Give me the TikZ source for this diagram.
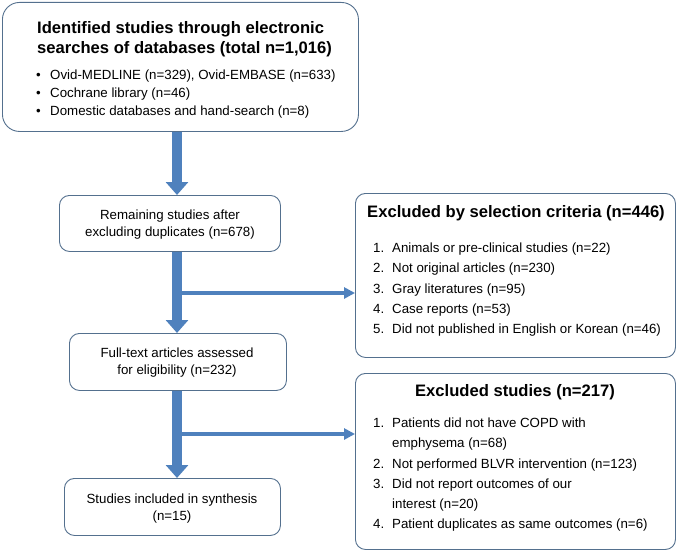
\documentclass[tikz,border=0pt]{standalone}
\usepackage{fontspec}
\setmainfont{Liberation Sans}
\usetikzlibrary{arrows.meta}
\definecolor{arrowblue}{RGB}{79,129,189}
\definecolor{boxline}{RGB}{84,112,142}
\begin{document}
\begin{tikzpicture}[x=1pt,y=-1pt,
  box/.style={draw=boxline, line width=0.9pt, rounded corners=10pt, fill=white, inner sep=0pt},
  bigbox/.style={box, rounded corners=17pt},
  bigarrow/.style={draw=arrowblue, line width=10.5pt, -{Triangle[width=22pt,length=13pt]}},
  sidearrow/.style={draw=arrowblue, line width=3.5pt, -{Triangle[width=11pt,length=11pt]}},
  titletext/.style={inner sep=0pt, anchor=north west, align=left, font=\fontsize{16.6}{20.5}\selectfont\bfseries},
  bodytext/.style={inner sep=0pt, align=center, font=\fontsize{13.3}{17}\selectfont},
  listtext/.style={inner sep=0pt, anchor=north west, font=\fontsize{13.3}{20.3}\selectfont},
  headtext/.style={inner sep=0pt, font=\fontsize{16.6}{20}\selectfont\bfseries}]
\useasboundingbox (0,0) rectangle (680,551);

% boxes
\node[bigbox, minimum width=356pt, minimum height=129pt, anchor=north west] (b1) at (2,2) {};
\node[box, minimum width=221pt, minimum height=56pt, anchor=north west] (b2) at (59,195) {};
\node[box, minimum width=217pt, minimum height=57pt, anchor=north west] (b3) at (69,333) {};
\node[box, minimum width=216pt, minimum height=57pt, anchor=north west] (b4) at (64,478) {};
\node[box, minimum width=320pt, minimum height=164pt, anchor=north west] (e1) at (355,193) {};
\node[box, minimum width=320pt, minimum height=176pt, anchor=north west] (e2) at (355,373) {};

% texts
\node[titletext] (t1) at (37,21) {Identified studies through electronic\\searches of databases (total n=1,016)};
\node[listtext, font=\fontsize{13.3}{17.8}\selectfont] (l1) at (36,67) {%
  \begin{tabular}{@{}p{14pt}@{}l@{}}
  \textbullet & Ovid-MEDLINE (n=329), Ovid-EMBASE (n=633)\\
  \textbullet & Cochrane library (n=46)\\
  \textbullet & Domestic databases and hand-search (n=8)
  \end{tabular}};

\node[bodytext] (t2) at (170,225) {Remaining studies after\\excluding duplicates (n=678)};
\node[bodytext] (t3) at (177,363) {Full-text articles assessed\\for eligibility (n=232)};
\node[bodytext] (t4) at (172,509) {Studies included in synthesis\\(n=15)};

\node[headtext] (h1) at (516,213) {Excluded by selection criteria (n=446)};
\node[listtext] (l2) at (373,238) {%
  \begin{tabular}{@{}p{19pt}@{}l@{}}
  1. & Animals or pre-clinical studies (n=22)\\
  2. & Not original articles (n=230)\\
  3. & Gray literatures (n=95)\\
  4. & Case reports (n=53)\\
  5. & Did not published in English or Korean (n=46)
  \end{tabular}};

\node[headtext] (h2) at (515,392) {Excluded studies (n=217)};
\node[listtext] (l3) at (373,413) {%
  \begin{tabular}{@{}p{19pt}@{}l@{}}
  1. & Patients did not have COPD with\\
     & emphysema (n=68)\\
  2. & Not performed BLVR intervention (n=123)\\
  3. & Did not report outcomes of our\\
     & interest (n=20)\\
  4. & Patient duplicates as same outcomes (n=6)
  \end{tabular}};

% connectors
\coordinate (ax) at (177,0);
\coordinate (br1) at (177,293);
\coordinate (br2) at (177,434);
\draw[sidearrow] (br1) -- (br1 -| e1.west);
\draw[sidearrow] (br2) -- (br2 -| e2.west);
\draw[bigarrow] (b1.south -| ax) -- (b2.north -| ax);
\draw[bigarrow] (b2.south -| ax) -- (b3.north -| ax);
\draw[bigarrow] (b3.south -| ax) -- (b4.north -| ax);
\end{tikzpicture}
\end{document}
